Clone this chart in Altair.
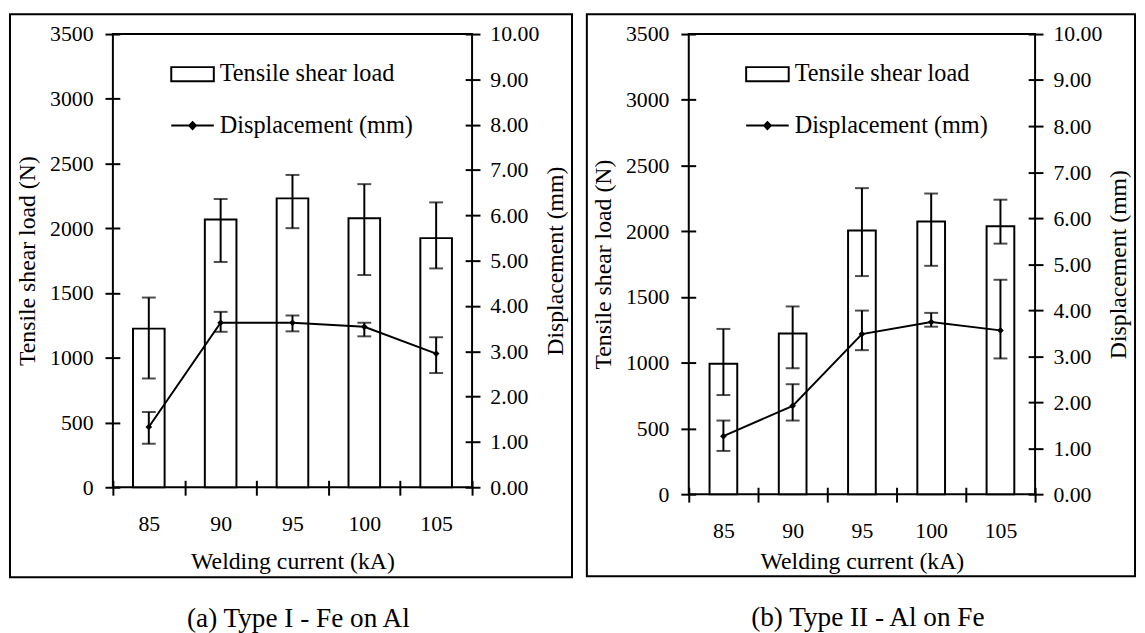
import altair as alt
import pandas as pd

FONT = "Liberation Serif"

currents = [85, 90, 95, 100, 105]

# Panel (a) Type I - Fe on Al
load_a = [1225, 2067, 2231, 2077, 1924]
load_a_lo = [840, 1740, 2001, 1639, 1690]
load_a_hi = [1465, 2226, 2412, 2341, 2200]
disp_a = [1.33, 3.63, 3.63, 3.54, 2.95]
disp_a_lo = [0.96, 3.43, 3.44, 3.33, 2.52]
disp_a_hi = [1.66, 3.87, 3.79, 3.63, 3.31]

# Panel (b) Type II - Al on Fe
load_b = [993, 1222, 2006, 2074, 2038]
load_b_lo = [754, 958, 1659, 1737, 1906]
load_b_hi = [1257, 1428, 2328, 2287, 2240]
disp_b = [1.26, 1.92, 3.48, 3.74, 3.56]
disp_b_lo = [0.94, 1.60, 3.13, 3.64, 2.95]
disp_b_hi = [1.60, 2.39, 3.99, 3.94, 4.66]

load_ticks = [0, 500, 1000, 1500, 2000, 2500, 3000, 3500]
disp_ticks = [0, 1, 2, 3, 4, 5, 6, 7, 8, 9, 10]

RECT_PATH = "M-1,-0.33L1,-0.33L1,0.33L-1,0.33Z"
LINE_PATH = "M-1,0L1,0M-0.16,0L0,-0.16L0.16,0L0,0.16Z"

TXT = dict(labelFont=FONT, titleFont=FONT, labelFontSize=22, titleFontSize=24,
           labelColor="black", titleColor="black", titleFontWeight="normal")


def make_df(load, lo, hi, d, dlo, dhi):
    return pd.DataFrame({
        "current": currents, "load": load, "load_lo": lo, "load_hi": hi,
        "disp": d, "disp_lo": dlo, "disp_hi": dhi,
        "bar_name": ["Tensile shear load"] * 5,
        "line_name": ["Displacement (mm)"] * 5,
    })


def panel(df, w, h, bar_frac, frame, caption, leg_x, xlab_pad, xtitle_pad):
    x = alt.X("current:O", title="Welding current (kA)",
              scale=alt.Scale(paddingInner=0, paddingOuter=0),
              axis=alt.Axis(labelAngle=0, tickBand="extent", domain=False, offset=-7,
                            tickSize=15, tickWidth=2, tickColor="black",
                            labelPadding=xlab_pad, titlePadding=xtitle_pad, **TXT))
    ls = alt.Scale(domain=[0, 3500])
    rs = alt.Scale(domain=[0, 10])
    left_axis = alt.Axis(orient="left", values=load_ticks, format="d", grid=False,
                         domain=False, offset=-7, tickSize=15, tickWidth=2, tickColor="black",
                         labelPadding=12, titlePadding=10, title="Tensile shear load (N)", **TXT)
    right_axis = alt.Axis(orient="right", values=disp_ticks, format=".2f", grid=False,
                          domain=False, offset=-7, tickSize=15, tickWidth=2, tickColor="black",
                          labelPadding=10, titlePadding=5, titleAngle=270, titleBaseline="top",
                          title="Displacement (mm)", **TXT)
    leg_common = dict(title=None, orient="none", legendX=leg_x, symbolSize=1849,
                      symbolStrokeWidth=2, labelFont=FONT, labelFontSize=24.5,
                      labelColor="black", labelOffset=5, padding=0, labelLimit=400)
    base = alt.Chart(df)
    bars = base.mark_bar(width=alt.RelativeBandSize(bar_frac), stroke="black", strokeWidth=2).encode(
        x=x,
        y=alt.Y("load:Q", scale=ls, axis=left_axis),
        fill=alt.Fill("bar_name:N", scale=alt.Scale(range=["white"]),
                      legend=alt.Legend(legendY=18, symbolType=RECT_PATH,
                                        symbolStrokeColor="black", **leg_common)),
    )
    lrule = base.mark_rule(color="black", strokeWidth=2).encode(
        x=x, y=alt.Y("load_lo:Q", scale=ls, axis=left_axis), y2="load_hi:Q")
    lhi = base.mark_tick(color="black", size=14, thickness=2).encode(
        x=x, y=alt.Y("load_hi:Q", scale=ls, axis=left_axis))
    llo = base.mark_tick(color="black", size=14, thickness=2).encode(
        x=x, y=alt.Y("load_lo:Q", scale=ls, axis=left_axis))
    left = alt.layer(bars, lrule, lhi, llo)

    line = base.mark_line(strokeWidth=2).encode(
        x=x,
        y=alt.Y("disp:Q", scale=rs, axis=right_axis),
        stroke=alt.Stroke("line_name:N", scale=alt.Scale(range=["black"]),
                          legend=alt.Legend(legendY=70, symbolType=LINE_PATH,
                                            symbolFillColor="black", **leg_common)),
    )
    pts = base.mark_point(shape="diamond", filled=True, size=45, color="black", opacity=1).encode(
        x=x, y=alt.Y("disp:Q", scale=rs, axis=right_axis))
    rrule = base.mark_rule(color="black", strokeWidth=2).encode(
        x=x, y=alt.Y("disp_lo:Q", scale=rs, axis=right_axis), y2="disp_hi:Q")
    rhi = base.mark_tick(color="black", size=14, thickness=2).encode(
        x=x, y=alt.Y("disp_hi:Q", scale=rs, axis=right_axis))
    rlo = base.mark_tick(color="black", size=14, thickness=2).encode(
        x=x, y=alt.Y("disp_lo:Q", scale=rs, axis=right_axis))
    right = alt.layer(line, rrule, rhi, rlo, pts)

    fx1, fx2, fy1, fy2 = frame
    box = alt.Chart(alt.Data(values=[{"k": 1}])).mark_rect(
        fillOpacity=0, stroke="black", strokeWidth=2).encode(
        x=alt.value(fx1), x2=alt.value(fx2), y=alt.value(fy1), y2=alt.value(fy2))

    return alt.layer(left, right, box).resolve_scale(y="independent").properties(
        width=w, height=h,
        title=alt.TitleParams(caption, orient="bottom", offset=27, fontSize=27.5, dx=6,
                              font=FONT, fontWeight="normal", color="black"))


df_a = make_df(load_a, load_a_lo, load_a_hi, disp_a, disp_a_lo, disp_a_hi)
df_b = make_df(load_b, load_b_lo, load_b_hi, disp_b, disp_b_lo, disp_b_hi)

pa = panel(df_a, 363, 458, 0.44, (-104, 464, -20, 549), "(a) Type I - Fe on Al", 58, 19, 15)
pb = panel(df_b, 350, 465, 0.40, (-103, 451, -20, 548), "(b) Type II - Al on Fe", 57, 19, 8)

chart = alt.hconcat(pa, pb, spacing=11).resolve_scale(
    fill="independent", stroke="independent").resolve_legend(
    fill="independent", stroke="independent").configure(
    font=FONT).configure_view(
    stroke="black", strokeWidth=2).properties(
    padding={"left": 0, "top": 1, "right": 0, "bottom": 0})

chart.save("out.html", embed_options={"renderer": "svg", "actions": False})
